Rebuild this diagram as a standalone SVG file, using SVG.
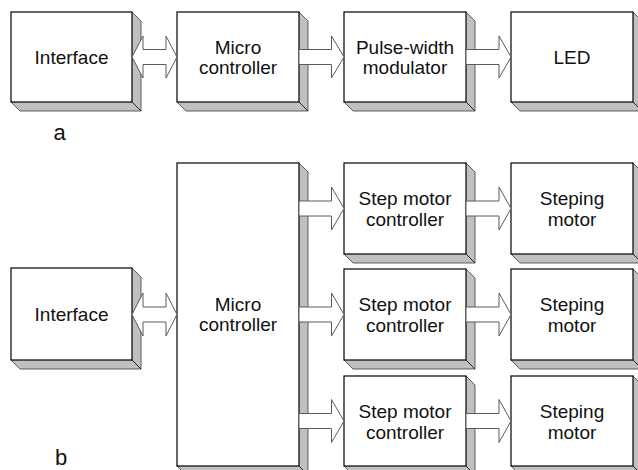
<svg xmlns="http://www.w3.org/2000/svg" width="638" height="470" viewBox="0 0 638 470">
  <style>
    .side { fill: #c0c0c0; stroke: #3a3a3a; stroke-width: 0.8; stroke-linejoin: miter; }
    .edge { stroke: #222; stroke-width: 1; fill: none; }
    .face { fill: #ffffff; stroke: #000000; stroke-width: 1.2; }
    .t { font-family: "Liberation Sans", Arial, sans-serif; font-size: 19px; fill: #111; text-anchor: middle; }
    .lbl { font-family: "Liberation Sans", Arial, sans-serif; font-size: 22px; fill: #111; text-anchor: middle; }
    .arrow { fill: #ffffff; stroke: #5a5a5a; stroke-width: 1; stroke-linejoin: miter; }
  </style>

  <rect x="0" y="0" width="638" height="470" fill="#ffffff"/>

  <!-- (a) LED chain -->
  <g id="a-interface">
    <polygon class="side" points="132,12 141,21 141,111 20,111 11,102"/>
    <rect class="face" x="11" y="12" width="121" height="90"/>
    <line class="edge" x1="132" y1="102" x2="141" y2="111"/>
    <text class="t" x="71.5" y="64">Interface</text>
  </g>
  <g id="a-micro">
    <polygon class="side" points="299,12 308,21 308,111 186,111 177,102"/>
    <rect class="face" x="177" y="12" width="122" height="90"/>
    <line class="edge" x1="299" y1="102" x2="308" y2="111"/>
    <text class="t" x="238" y="53.5">Micro<tspan x="238" dy="20">controller</tspan></text>
  </g>
  <g id="a-pwm">
    <polygon class="side" points="466,12 475,21 475,111 353,111 344,102"/>
    <rect class="face" x="344" y="12" width="122" height="90"/>
    <line class="edge" x1="466" y1="102" x2="475" y2="111"/>
    <text class="t" x="405" y="53.5">Pulse-width<tspan x="405" dy="20">modulator</tspan></text>
  </g>
  <g id="a-led">
    <polygon class="side" points="633,12 642,21 642,111 520,111 511,102"/>
    <rect class="face" x="511" y="12" width="122" height="90"/>
    <line class="edge" x1="633" y1="102" x2="642" y2="111"/>
    <text class="t" x="572" y="64">LED</text>
  </g>
  <text class="lbl" x="59.5" y="140">a</text>

  <!-- (b) stepper chain -->
  <g id="b-interface">
    <polygon class="side" points="132,268 141,277 141,369 20,369 11,360"/>
    <rect class="face" x="11" y="268" width="121" height="92"/>
    <line class="edge" x1="132" y1="360" x2="141" y2="369"/>
    <text class="t" x="71.5" y="321">Interface</text>
  </g>
  <g id="b-micro">
    <polygon class="side" points="299,163 308,172 308,475 186,475 177,466"/>
    <rect class="face" x="177" y="163" width="122" height="303"/>
    <line class="edge" x1="299" y1="466" x2="308" y2="475"/>
    <text class="t" x="238" y="311">Micro<tspan x="238" dy="20">controller</tspan></text>
  </g>
  <g id="b-smc1">
    <polygon class="side" points="466,163 475,172 475,263 353,263 344,254"/>
    <rect class="face" x="344" y="163" width="122" height="91"/>
    <line class="edge" x1="466" y1="254" x2="475" y2="263"/>
    <text class="t" x="405" y="205">Step motor<tspan x="405" dy="21">controller</tspan></text>
  </g>
  <g id="b-smc2">
    <polygon class="side" points="466,269 475,278 475,369 353,369 344,360"/>
    <rect class="face" x="344" y="269" width="122" height="91"/>
    <line class="edge" x1="466" y1="360" x2="475" y2="369"/>
    <text class="t" x="405" y="311">Step motor<tspan x="405" dy="21">controller</tspan></text>
  </g>
  <g id="b-smc3">
    <polygon class="side" points="466,376 475,385 475,475 353,475 344,466"/>
    <rect class="face" x="344" y="376" width="122" height="90"/>
    <line class="edge" x1="466" y1="466" x2="475" y2="475"/>
    <text class="t" x="405" y="417.5">Step motor<tspan x="405" dy="21">controller</tspan></text>
  </g>
  <g id="b-motor1">
    <polygon class="side" points="633,163 642,172 642,263 520,263 511,254"/>
    <rect class="face" x="511" y="163" width="122" height="91"/>
    <line class="edge" x1="633" y1="254" x2="642" y2="263"/>
    <text class="t" x="572" y="205">Steping<tspan x="572" dy="21">motor</tspan></text>
  </g>
  <g id="b-motor2">
    <polygon class="side" points="633,269 642,278 642,369 520,369 511,360"/>
    <rect class="face" x="511" y="269" width="122" height="91"/>
    <line class="edge" x1="633" y1="360" x2="642" y2="369"/>
    <text class="t" x="572" y="311">Steping<tspan x="572" dy="21">motor</tspan></text>
  </g>
  <g id="b-motor3">
    <polygon class="side" points="633,376 642,385 642,475 520,475 511,466"/>
    <rect class="face" x="511" y="376" width="122" height="90"/>
    <line class="edge" x1="633" y1="466" x2="642" y2="475"/>
    <text class="t" x="572" y="417.5">Steping<tspan x="572" dy="21">motor</tspan></text>
  </g>
  <text class="lbl" x="61" y="465">b</text>

  <!-- block arrows -->
  <g id="connectors">
    <path class="arrow" d="M132,57 L143,36 L143,49.5 L166,49.5 L166,36 L177,57 L166,78 L166,64.5 L143,64.5 L143,78 Z"/>
    <path class="arrow" d="M299,49.5 L331.5,49.5 L331.5,36 L344,57 L331.5,78 L331.5,64.5 L299,64.5 Z"/>
    <path class="arrow" d="M466,49.5 L499,49.5 L499,36 L511,57 L499,78 L499,64.5 L466,64.5 Z"/>

    <path class="arrow" d="M132,314.5 L143,293 L143,307 L166,307 L166,293 L177,314.5 L166,336 L166,322 L143,322 L143,336 Z"/>

    <path class="arrow" d="M299,201 L331.5,201 L331.5,187 L344,208.5 L331.5,230 L331.5,216 L299,216 Z"/>
    <path class="arrow" d="M299,307 L331.5,307 L331.5,293 L344,314.5 L331.5,336 L331.5,322 L299,322 Z"/>
    <path class="arrow" d="M299,413.5 L331.5,413.5 L331.5,399.5 L344,421 L331.5,442.5 L331.5,428.5 L299,428.5 Z"/>

    <path class="arrow" d="M466,201 L499,201 L499,187 L511,208.5 L499,230 L499,216 L466,216 Z"/>
    <path class="arrow" d="M466,307 L499,307 L499,293 L511,314.5 L499,336 L499,322 L466,322 Z"/>
    <path class="arrow" d="M466,413.5 L499,413.5 L499,399.5 L511,421 L499,442.5 L499,428.5 L466,428.5 Z"/>
  </g>
</svg>
